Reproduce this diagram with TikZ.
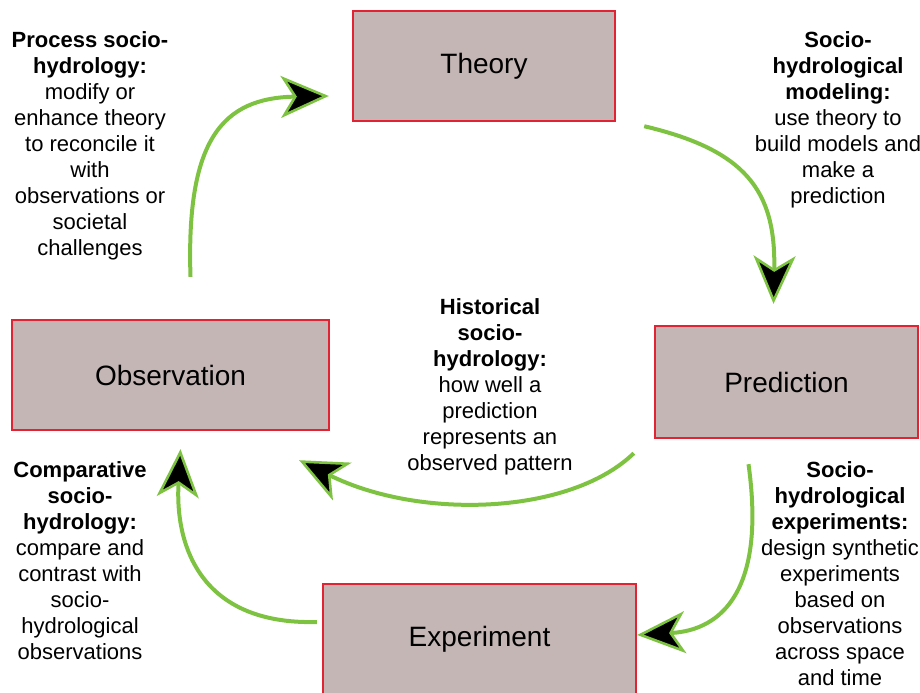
\documentclass[tikz,border=0pt]{standalone}
\usepackage{fontspec}
\setmainfont{Liberation Sans}
\usetikzlibrary{arrows.meta, positioning, calc}
\definecolor{boxfill}{RGB}{196, 182, 181}
\definecolor{boxred}{RGB}{226, 35, 52}
\definecolor{arrowgreen}{RGB}{126, 194, 66}

\tikzset{
  stagebox/.style={draw=boxred, fill=boxfill, line width=1.2pt,
    font=\fontsize{14}{16}\selectfont, inner sep=0pt},
  flow/.style={arrowgreen, line width=2pt,
    -{Stealth[length=24pt, width=21pt, inset=6.5pt, line width=1.3pt, fill=black]}},
  note/.style={align=center, inner sep=0pt, font=\fontsize{11}{13}\selectfont}
}

\begin{document}
\begin{tikzpicture}[x=0.5pt, y=-0.5pt]
  \useasboundingbox (0,0) rectangle (920,692);

  % Boxes
  \node[stagebox, minimum width=131pt, minimum height=55pt] (theory) at (484,66) {Theory};
  \node[stagebox, minimum width=131.5pt, minimum height=56pt] (prediction) at (786.5,382) {Prediction};
  \node[stagebox, minimum width=158.5pt, minimum height=55pt] (observation) at (170.5,375) {Observation};
  \node[stagebox, minimum width=156.5pt, minimum height=55pt] (experiment) at (479.5,639) {Experiment};

  % Notes
  \node[note] (process) at (90,146)
    {\textbf{Process socio-}\\ \textbf{hydrology:}\\ modify or\\ enhance theory\\ to reconcile it\\ with\\ observations or\\ societal\\ challenges};
  \node[note] (modeling) at (838,120)
    {\textbf{Socio-}\\ \textbf{hydrological}\\ \textbf{modeling:}\\ use theory to\\ build models and\\ make a\\ prediction};
  \node[note] (historical) at (490,386.5)
    {\textbf{Historical}\\ \textbf{socio-}\\ \textbf{hydrology:}\\ how well a\\ prediction\\ represents an\\ observed pattern};
  \node[note] (comparative) at (80,561)
    {\textbf{Comparative}\\ \textbf{socio-}\\ \textbf{hydrology:}\\ compare and\\ contrast with\\ socio-\\ hydrological\\ observations};
  \node[note] (experiments) at (840,574)
    {\textbf{Socio-}\\ \textbf{hydrological}\\ \textbf{experiments:}\\ design synthetic\\ experiments\\ based on\\ observations\\ across space\\ and time};

  % Cycle arrows
  \draw[flow] ([xshift=10pt, yshift=21pt]observation.north)
    .. controls (186,140) and (222,98) .. ([xshift=-11.5pt, yshift=-15pt]theory.west);
  \draw[flow] ([xshift=14pt, yshift=-2pt]theory.south east)
    .. controls (745,150) and (776,190) .. ([xshift=-6.5pt, yshift=10.5pt]prediction.north);
  \draw[flow] ([xshift=-10pt, yshift=-7pt]prediction.south west)
    .. controls (570,515) and (420,520) .. ([xshift=-15.5pt, yshift=-14.5pt]observation.south east);
  \draw[flow] ([xshift=-19pt, yshift=-12.5pt]prediction.south)
    .. controls (766,590) and (722,630) .. ([yshift=2pt]experiment.east);
  \draw[flow] ([xshift=-2.5pt, yshift=8.5pt]experiment.west)
    .. controls (200,625) and (175,545) .. ([xshift=5pt, yshift=-9pt]observation.south);
\end{tikzpicture}
\end{document}
